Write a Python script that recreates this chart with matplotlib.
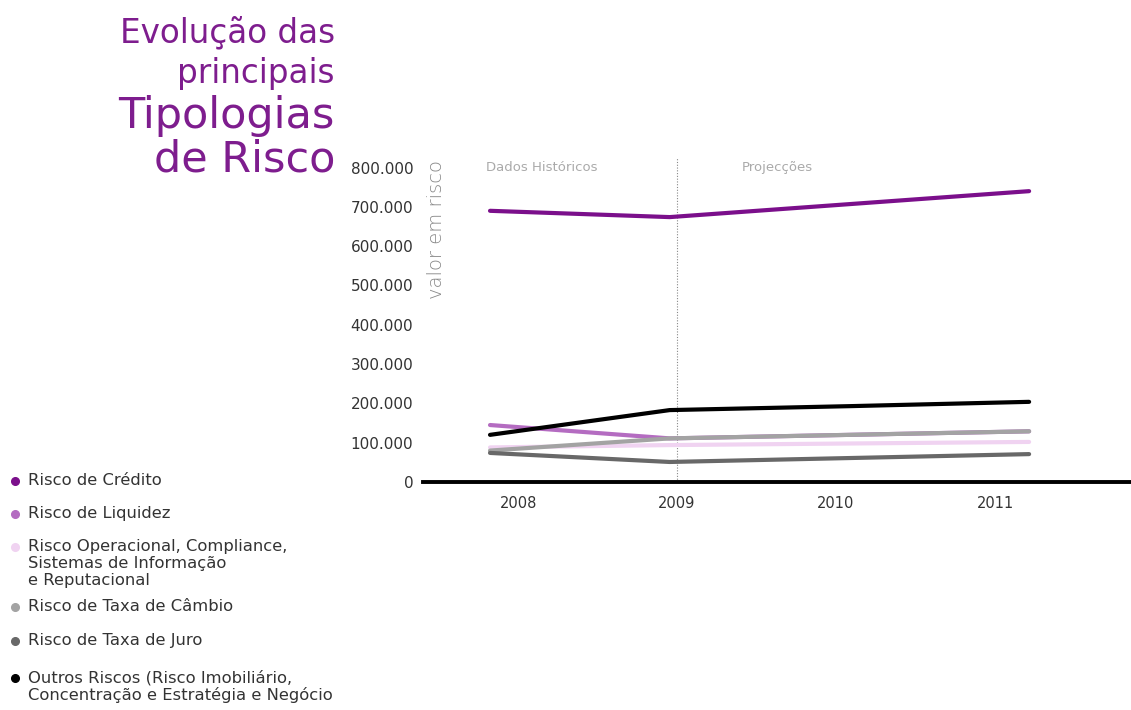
import matplotlib
matplotlib.use("Agg")
import matplotlib.pyplot as plt
from matplotlib.lines import Line2D
from matplotlib.ticker import FuncFormatter

plt.rcParams['font.family'] = ['DejaVu Sans']

# valores em risco por ano (euros)
anos = [2008, 2009, 2010, 2011]
credito = [690000, 674000, 707000, 740000]
liquidez = [145000, 111000, 120000, 129000]
operacional = [88000, 94000, 98000, 102000]
cambio = [80000, 111000, 120000, 129000]
juro = [74000, 51000, 61000, 71000]
outros = [120000, 183000, 193000, 204000]

ano_labels = ['2008', '2009', '2010', '2011']
ano_label_pos = [2008.16, 2009.04, 2009.925, 2010.815]
divisao = 2009.04

series = [
    ("Risco de Crédito", credito, '#7b0f8b'),
    ("Risco de Liquidez", liquidez, '#b46cc1'),
    ("Risco Operacional, Compliance,\nSistemas de Informação\ne Reputacional", operacional, '#f0d3f1'),
    ("Risco de Taxa de Câmbio", cambio, '#a3a3a3'),
    ("Risco de Taxa de Juro", juro, '#686868'),
    ("Outros Riscos (Risco Imobiliário,\nConcentração e Estratégia e Negócio", outros, '#000000'),
]

roxo = '#7e1d8e'
cinza_txt = '#333333'

fig = plt.figure(figsize=(11.31, 7.10), dpi=100)
ax = fig.add_axes([0.374, 0.3211, 0.626, 0.4606])

for i, (nome, vals, cor) in enumerate(series):
    ax.plot(anos, vals, color=cor, lw=3.0, solid_capstyle='round', zorder=3 + i)

ax.set_xlim(2008 - 0.373, 2008 + 3.567)
ax.set_ylim(0, 832000)
ax.set_yticks(range(0, 800001, 100000))
ax.yaxis.set_major_formatter(FuncFormatter(lambda v, p: f"{int(v):,}".replace(',', '.')))
ax.set_xticks(ano_label_pos)
ax.set_xticklabels(ano_labels)
ax.tick_params(axis='both', length=0, colors=cinza_txt)
ax.tick_params(axis='y', pad=7, labelsize=11)
ax.tick_params(axis='x', pad=10, labelsize=10.5)

for s in ['top', 'right', 'left']:
    ax.spines[s].set_visible(False)
ax.spines['bottom'].set_linewidth(2.8)
ax.spines['bottom'].set_color('black')
ax.spines['bottom'].set_zorder(20)

# separação entre dados históricos e projecções
ax.axvline(divisao, ymin=0, ymax=0.995, color='#888888', lw=0.8, ls=(0, (1, 1.5)), zorder=1)
ax.text(2007.98, 800000, "Dados Históricos", fontsize=9.5, color='#aaaaaa', va='center', ha='left')
ax.text(2009.4, 800000, "Projecções", fontsize=9.5, color='#aaaaaa', va='center', ha='left')

fig.text(436 / 1131, 1 - 230 / 710, "valor em risco", rotation=90, fontsize=14,
         color='#888888', ha='center', va='center', fontweight='light')

# título
titulo = [("Evolução das", 33, 23.5), ("principais", 73, 23.5), ("Tipologias", 116, 31), ("de Risco", 160, 31)]
for txt, y, fs in titulo:
    fig.text(335 / 1131, 1 - y / 710, txt, fontsize=fs, color=roxo, ha='right', va='center')

# legenda
leg_y = [481, 514, 547, 607, 641, 678]
for (nome, vals, cor), y in zip(series, leg_y):
    fig.add_artist(Line2D([15 / 1131], [1 - y / 710], marker='o', markersize=5.5,
                          color=cor, linestyle='', transform=fig.transFigure))
    fig.text(28 / 1131, 1 - (y - 8) / 710, nome, fontsize=11.8, color=cinza_txt,
             ha='left', va='top', linespacing=1.15)

fig.savefig("out.png", dpi=100)
